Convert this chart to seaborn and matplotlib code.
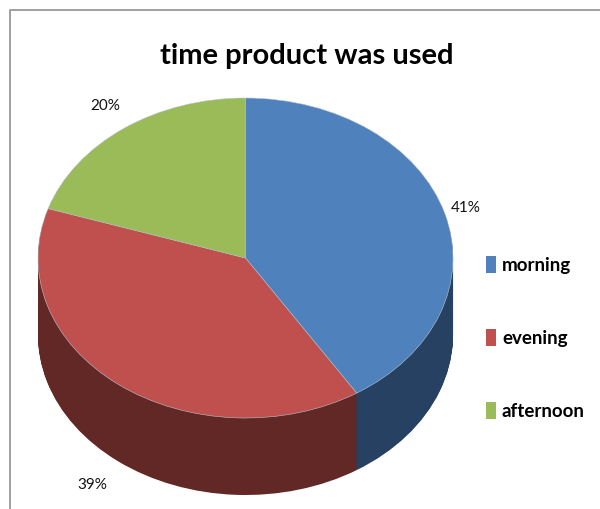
# time product was used - 3D looking pie chart
import matplotlib
matplotlib.use("Agg")
import matplotlib.pyplot as plt
import seaborn as sns

# data
categories = ["morning", "evening", "afternoon"]
values = [41, 39, 20]
top_colors = ["#4F81BD", "#C0504D", "#9BBB59"]
side_colors = ["#264161", "#612826", "#4F6228"]
title = "time product was used"

W, H = 600, 509

sns.set_theme(style="white")
plt.rcParams["font.family"] = ["Lato", "DejaVu Sans"]

fig = plt.figure(figsize=(W / 100, H / 100), dpi=100)

# pie ellipse is 38..453 wide, 98..418 tall, side goes down to 495
ax = fig.add_axes([38 / W, 1 - 495 / H, (453 - 38) / W, (495 - 98) / H])
depth = 77 / 160

# stack of dark pies for the side
steps = 100
for i in range(steps, 0, -1):
    ax.pie(values, colors=side_colors, startangle=90, counterclock=False,
           center=(0, -depth * i / steps), radius=1,
           wedgeprops={"linewidth": 0})

# top of the pie
ax.pie(values, colors=top_colors, startangle=90, counterclock=False,
       center=(0, 0), radius=1, wedgeprops={"linewidth": 0.4, "edgecolor": "#B8C4D0"})

ax.set_aspect("auto")
ax.set_xlim(-1, 1)
ax.set_ylim(-1 - depth, 1)

# title and percent labels
fig.text(307 / W, 1 - 56 / H, title, ha="center", va="center", fontsize=21,
         fontweight="bold", color="black")
label_pos = [(466, 208), (92, 485), (105, 106)]
for v, (x, y) in zip(values, label_pos):
    fig.text(x / W, 1 - y / H, f"{v}%", ha="center", va="center", fontsize=11, color="#111111")

# legend
handles = [plt.Rectangle((0, 0), 1, 1, color=c, lw=0) for c in top_colors]
fig.legend(handles, categories, loc="center left", bbox_to_anchor=(486 / W, 1 - 338 / H),
           frameon=False, handlelength=0.55, handleheight=1.0,
           handletextpad=0.3, labelspacing=2.95, borderpad=0, borderaxespad=0,
           labelcolor="black", prop={"weight": "bold", "size": 13.5})

# chart frame, only left and top are inside the picture
fig.add_artist(plt.Line2D([10 / W, 10 / W, 1], [0, 1 - 10 / H, 1 - 10 / H], color="#A0A0A0", lw=1.4))

fig.savefig("out.png", dpi=100, facecolor="white")
